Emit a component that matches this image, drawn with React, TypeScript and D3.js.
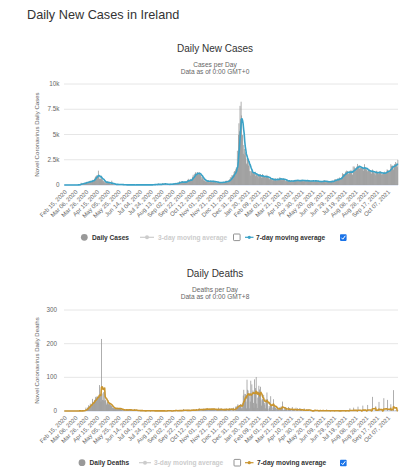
import React from 'react';
import * as d3 from 'd3';

// ---------- DATA ----------
const startDate = '2020-02-15';

const tickLabels: string[] = [
  'Feb 15, 2020', 'Mar 06, 2020', 'Mar 26, 2020', 'Apr 15, 2020', 'May 05, 2020', 'May 25, 2020',
  'Jun 14, 2020', 'Jul 04, 2020', 'Jul 24, 2020', 'Aug 13, 2020', 'Sep 02, 2020', 'Sep 22, 2020',
  'Oct 12, 2020', 'Nov 01, 2020', 'Nov 21, 2020', 'Dec 11, 2020', 'Dec 31, 2020', 'Jan 20, 2021',
  'Feb 09, 2021', 'Mar 01, 2021', 'Mar 21, 2021', 'Apr 10, 2021', 'Apr 30, 2021', 'May 20, 2021',
  'Jun 09, 2021', 'Jun 29, 2021', 'Jul 19, 2021', 'Aug 08, 2021', 'Aug 28, 2021', 'Sep 17, 2021',
  'Oct 07, 2021',
];

const dailyCases: number[] = [
  // Feb 15-29 2020
  0,0,0,0,0,0,0,0,0,0,0,0,0,0,1,
  // Mar 2020
  0,0,1,4,7,5,1,2,3,10,9,27,20,40,40,54,223,74,191,126,102,121,219,204,235,255,302,294,200,295,325,
  // Apr 2020
  212,402,424,370,390,365,345,515,500,480,620,730,832,857,948,924,777,1420,893,601,631,588,936,577,701,472,381,376,359,221,
  // May 2020
  343,156,330,134,375,265,222,236,186,159,87,107,426,107,125,56,64,51,88,56,58,51,57,56,59,42,64,41,73,37,52,
  // Jun 2020
  27,20,42,10,24,22,23,12,10,13,8,20,12,12,13,14,7,14,14,9,11,4,7,10,2,7,14,23,7,11,
  // Jul 2020
  6,5,13,9,15,8,11,8,12,15,7,17,23,4,9,17,11,10,16,17,26,4,14,11,11,25,15,8,38,85,33,
  // Aug 2020
  45,35,37,40,42,39,174,68,30,57,35,39,66,59,200,67,66,190,61,89,156,73,61,53,39,70,118,53,52,137,53,
  // Sep 2020
  86,93,84,91,177,156,133,198,64,84,142,211,255,183,272,357,240,253,196,390,396,222,234,324,221,336,363,231,364,429,
  // Oct 2020
  506,613,364,364,518,432,611,506,613,814,1012,827,811,1095,1205,1276,1066,1031,1283,1031,1167,1066,1269,1016,1025,832,547,766,640,462,651,
  // Nov 2020
  412,472,334,408,313,393,379,488,315,269,395,426,349,371,425,272,257,416,392,311,336,345,240,260,263,281,251,270,213,238,
  // Dec 2020
  269,215,264,281,302,282,242,269,297,333,429,408,244,264,430,431,484,582,764,427,727,970,938,922,1025,1296,1377,1012,1546,1718,1620,
  // Jan 2021
  3394,1754,4962,6110,5325,7836,6521,8248,6888,4929,4948,3086,3955,3569,2944,3231,2644,2121,2001,2608,2488,1910,2371,1372,1378,928,1335,1466,1254,1035,1247,
  // Feb 2021
  1114,1086,1318,879,1047,1026,1024,832,1008,658,1067,971,1076,888,736,686,1081,891,831,839,810,728,806,754,1005,787,819,678,
  // Mar 2021
  590,559,689,643,520,624,683,374,525,443,471,677,616,551,438,427,664,573,521,677,769,575,546,573,438,586,572,672,549,602,392,
  // Apr 2021
  370,511,415,408,341,419,386,427,361,302,482,410,369,399,375,442,413,514,467,447,387,500,446,465,386,377,439,427,453,452,
  // May 2021
  537,460,418,371,418,482,456,425,404,446,429,375,396,409,384,365,403,400,430,418,373,473,383,307,425,461,423,369,436,396,293,
  // Jun 2021
  316,310,352,377,374,346,349,286,365,412,422,461,375,286,304,331,351,365,320,300,304,316,345,362,324,453,302,394,336,452,
  // Jul 2021
  576,562,479,407,583,496,681,528,577,748,651,540,693,752,1173,1017,1086,1037,917,1087,1324,1155,1427,1386,1345,1073,1120,1179,1408,1314,1501,
  // Aug 2021
  1361,1042,1015,1837,1378,1825,1664,1638,1408,1592,1827,2087,1864,1845,1962,1600,1653,1686,1735,1749,1781,1593,1395,1608,2061,1688,1663,1577,1527,1294,1411,
  // Sep 2021
  1528,1420,1528,1378,1388,1142,1117,1407,1534,1438,1250,1265,1133,966,1231,1398,1408,1199,1197,1075,1189,1293,1373,1322,1157,1025,1076,1079,1250,1189,
  // Oct 1-26 2021
  1326,1217,1217,1070,1233,1549,1485,1466,1353,1358,1271,1485,2066,1873,1934,1910,1871,1518,1754,2063,2066,2279,2129,2097,1765,2491,
];

const dailyDeaths: number[] = [
  // Feb 15-29 2020
  0,0,0,0,0,0,0,0,0,0,0,0,0,0,0,
  // Mar 2020
  0,0,0,0,0,0,0,0,0,0,1,0,0,1,0,0,0,0,1,0,0,3,1,2,2,10,3,5,10,10,17,
  // Apr 2020
  14,13,22,17,21,15,36,28,25,25,33,31,41,43,38,42,44,41,39,77,44,49,28,214,52,33,32,56,31,59,
  // May 2020
  33,29,19,23,28,21,20,26,21,18,18,15,15,10,10,9,6,8,7,6,9,5,10,6,7,8,6,7,9,6,4,
  // Jun 2020
  3,2,5,2,5,4,1,2,6,4,3,2,3,5,4,3,3,2,3,1,1,4,2,6,1,2,4,1,1,2,
  // Jul 2020
  1,0,1,3,0,0,2,1,1,0,0,1,0,0,2,0,3,0,0,0,0,1,2,0,1,0,0,0,1,2,0,
  // Aug 2020
  0,0,0,0,1,1,0,1,0,0,0,1,0,1,0,0,0,0,1,0,0,0,0,1,3,2,0,0,0,0,0,
  // Sep 2020
  0,1,0,1,3,1,0,1,2,1,1,0,0,2,0,3,2,0,1,0,2,1,6,3,1,3,0,0,2,4,
  // Oct 2020
  1,4,0,2,2,0,3,4,3,1,5,0,3,3,3,3,6,4,0,3,6,7,7,2,1,5,2,6,6,3,8,
  // Nov 2020
  3,3,5,7,6,9,3,6,2,6,6,6,7,6,3,5,7,6,7,6,2,4,3,5,6,2,10,3,3,4,
  // Dec 2020
  5,8,4,4,2,2,3,7,5,5,8,4,2,1,6,5,8,8,6,1,1,9,1,8,10,2,1,1,13,13,13,
  // Jan 2021
  16,20,13,11,17,17,20,20,8,8,23,46,63,28,51,50,28,8,93,63,61,52,46,8,28,90,47,79,54,61,24,
  // Feb 2021
  10,94,54,68,101,22,9,40,55,75,64,52,72,32,16,37,35,31,48,24,19,8,35,31,55,35,7,0,
  // Mar 2021
  15,10,22,44,14,17,3,10,35,13,13,14,9,0,7,6,12,3,6,11,1,7,13,11,13,28,0,4,3,10,7,
  // Apr 2021
  10,8,3,2,1,12,3,9,5,4,2,1,12,4,5,3,6,1,0,10,2,3,8,2,1,0,9,3,6,4,
  // May 2021
  2,0,0,3,8,3,1,0,0,5,2,4,3,6,0,0,0,0,0,0,2,0,0,4,3,3,0,0,0,2,0,
  // Jun 2021
  1,0,2,3,0,0,0,1,2,3,0,0,0,0,1,4,0,0,0,0,0,2,1,3,0,0,0,0,2,1,
  // Jul 2021
  0,2,0,0,0,1,2,0,0,0,0,0,1,3,0,0,0,0,0,1,2,0,1,0,0,0,0,1,8,0,0,
  // Aug 2021
  1,0,0,2,10,0,1,0,0,0,2,0,13,1,0,0,0,2,0,0,1,16,0,0,2,0,0,1,0,0,18,
  // Sep 2021
  0,2,0,0,1,0,0,3,42,0,0,1,0,2,14,0,0,1,0,0,27,0,2,0,0,1,0,0,3,38,
  // Oct 1-26 2021
  1,0,0,2,0,0,33,1,0,0,2,0,20,0,3,0,0,62,0,0,2,0,1,0,3,2,
];

const casesTicks: number[] = [0, 2500, 5000, 7500, 10000];
const casesTickLabels: string[] = ['0', '2.5k', '5k', '7.5k', '10k'];
const deathsTicks: number[] = [0, 100, 200, 300];
const deathsTickLabels: string[] = ['0', '100', '200', '300'];

// ---------- HELPERS ----------
const FONT = '"Liberation Sans", Arial, Helvetica, sans-serif';
const X0 = 64;
const X1 = 398;

function movingAverage(values: number[], w: number): number[] {
  return values.map((_, i) => d3.mean(values.slice(Math.max(0, i - w + 1), i + 1)) as number);
}

type ChartProps = {
  values: number[];
  ticks: number[];
  tickLabels: string[];
  yMax: number;
  top: number;
  bottom: number;
  lineColor: string;
  title: string;
  sub1: string;
  sub2: string;
  titleY: number;
  yTitle: string;
  yLabelX: number;
  legendY: number;
  legend: {
    circleX: number; textX: number; label: string;
    s3a: number; s3b: number; t3: number; box1: number;
    s7a: number; s7b: number; t7: number; box2: number;
  };
};

function Chart(p: ChartProps) {
  const n = p.values.length;
  const x = d3.scaleBand<number>().domain(d3.range(n)).range([X0, X1]).padding(0);
  const bw = x.bandwidth();
  const y = d3.scaleLinear().domain([0, p.yMax]).range([p.bottom, p.top]);
  const ma = movingAverage(p.values, 7);
  const line = d3.line<number>().x((_, i) => (x(i) as number) + bw / 2).y((d) => y(d));
  const lg = p.legend;
  const ly = p.legendY;

  return (
    <g>
      <text x={215} y={p.titleY} textAnchor="middle" fontSize={10} fill="#333" fontFamily={FONT}>{p.title}</text>
      <text x={215} y={p.titleY + 14.7} textAnchor="middle" fontSize={6.6} fill="#666" fontFamily={FONT}>{p.sub1}</text>
      <text x={215} y={p.titleY + 22.2} textAnchor="middle" fontSize={6.6} fill="#666" fontFamily={FONT}>{p.sub2}</text>

      {p.ticks.map((t, i) => (
        <g key={'g' + t}>
          <line x1={X0} x2={X1} y1={y(t)} y2={y(t)} stroke={i === 0 ? '#ccd6eb' : '#e6e6e6'} strokeWidth={1} />
          <text x={p.yLabelX} y={y(t)} dy="0.33em" textAnchor="end" fontSize={6.3} fill="#666" fontFamily={FONT}>{p.tickLabels[i]}</text>
        </g>
      ))}
      <text transform={`translate(38.5,${(p.top + p.bottom) / 2}) rotate(-90)`} textAnchor="middle" fontSize={6.1} fill="#666" fontFamily={FONT}>{p.yTitle}</text>

      {p.values.map((v, i) => (
        <rect key={i} x={x(i)} y={y(v)} width={bw + 0.25} height={Math.max(0, p.bottom - y(v))} fill="#999" />
      ))}
      <path d={line(ma) || ''} fill="none" stroke={p.lineColor} strokeWidth={1.6} strokeLinejoin="round" />

      {tickLabels.map((lab, k) => {
        const cx = (x(k * 20) as number) + bw / 2;
        return (
          <text key={lab} transform={`translate(${cx + 1.5},${p.bottom + 6}) rotate(-45)`} textAnchor="end" dy="0.35em" fontSize={6} fill="#666" fontFamily={FONT}>{lab}</text>
        );
      })}

      {/* legend */}
      <circle cx={lg.circleX} cy={ly} r={3.4} fill="#999" />
      <text x={lg.textX} y={ly} dy="0.35em" fontSize={6.6} fontWeight="bold" fill="#333" fontFamily={FONT}>{lg.label}</text>
      <line x1={lg.s3a} x2={lg.s3b} y1={ly} y2={ly} stroke="#ccc" strokeWidth={1.2} />
      <circle cx={(lg.s3a + lg.s3b) / 2} cy={ly} r={2} fill="#ccc" />
      <text x={lg.t3} y={ly} dy="0.35em" fontSize={6.6} fontWeight="bold" fill="#ccc" fontFamily={FONT}>3-day moving average</text>
      <rect x={lg.box1} y={ly - 3.3} width={6.6} height={6.6} rx={0.8} fill="#fff" stroke="#767676" strokeWidth={0.8} />
      <line x1={lg.s7a} x2={lg.s7b} y1={ly} y2={ly} stroke={p.lineColor} strokeWidth={1.2} />
      <circle cx={(lg.s7a + lg.s7b) / 2} cy={ly} r={1.6} fill={p.lineColor} />
      <text x={lg.t7} y={ly} dy="0.35em" fontSize={6.6} fontWeight="bold" fill="#333" fontFamily={FONT}>7-day moving average</text>
      <rect x={lg.box2} y={ly - 3.0} width={6.6} height={6.6} rx={0.8} fill="#1a73e8" />
      <path d={`M${lg.box2 + 1.4},${ly + 0.4} L${lg.box2 + 2.8},${ly + 1.9} L${lg.box2 + 5.3},${ly - 1.5}`} fill="none" stroke="#fff" strokeWidth={1} />
    </g>
  );
}

export default function App() {
  return (
    <svg width={400} height={475} style={{ position: 'absolute', left: 0, top: 0, background: '#fff' }}>
      <rect width={400} height={475} fill="#fff" />
      <text x={27} y={19} fontSize={12.7} fill="#333" fontFamily={FONT}>Daily New Cases in Ireland</text>
      <Chart
        values={dailyCases}
        ticks={casesTicks}
        tickLabels={casesTickLabels}
        yMax={10000}
        top={84}
        bottom={185}
        lineColor="#3aa2c7"
        title="Daily New Cases"
        sub1="Cases per Day"
        sub2={`Data as of 0:00 GMT+0`}
        titleY={52}
        yTitle="Novel Coronavirus Daily Cases"
        yLabelX={59.5}
        legendY={237.3}
        legend={{ circleX: 84.3, textX: 92, label: 'Daily Cases', s3a: 140, s3b: 154, t3: 158, box1: 233.5, s7a: 245, s7b: 253.5, t7: 256, box2: 340 }}
      />
      <Chart
        values={dailyDeaths}
        ticks={deathsTicks}
        tickLabels={deathsTickLabels}
        yMax={300}
        top={310}
        bottom={411}
        lineColor="#c9952f"
        title="Daily Deaths"
        sub1="Deaths per Day"
        sub2={`Data as of 0:00 GMT+8`}
        titleY={277}
        yTitle="Novel Coronavirus Daily Deaths"
        yLabelX={57}
        legendY={462.7}
        legend={{ circleX: 82, textX: 89.5, label: 'Daily Deaths', s3a: 139, s3b: 151, t3: 154, box1: 234, s7a: 245, s7b: 253.5, t7: 257, box2: 340 }}
      />
    </svg>
  );
}
